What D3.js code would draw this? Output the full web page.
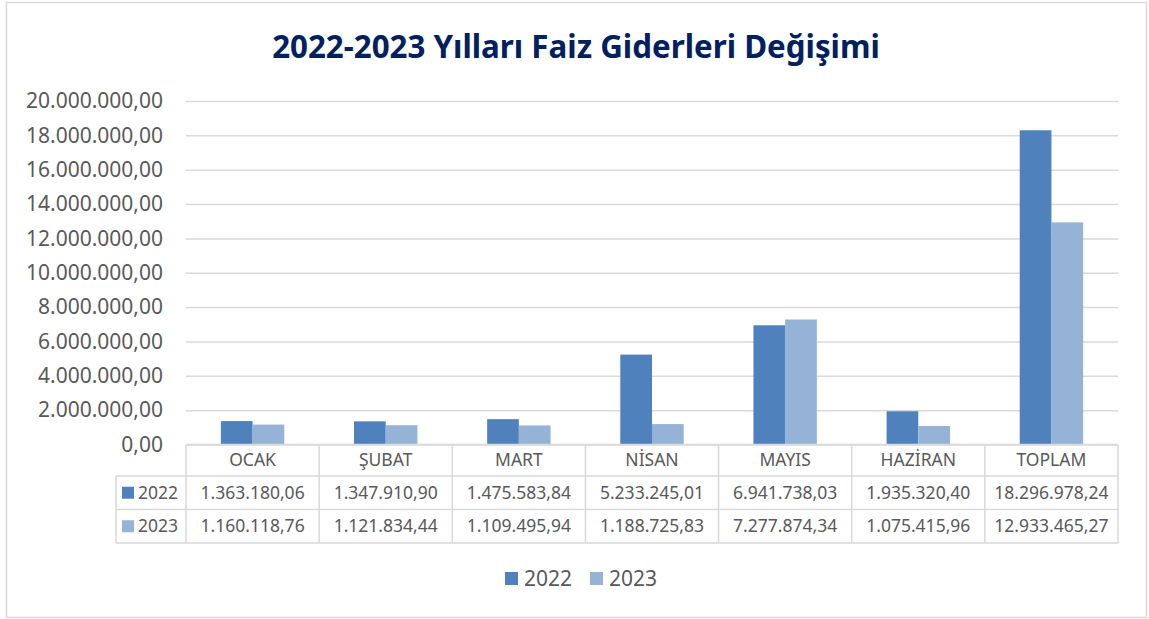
<!DOCTYPE html>
<html>
<head>
<meta charset="utf-8">
<script src="https://cdn.jsdelivr.net/npm/d3@7"></script>
<style>
  html, body { margin: 0; padding: 0; background: #ffffff; }
  svg { display: block; }
  text { font-family: "Noto Sans", "Open Sans", sans-serif; }
</style>
</head>
<body>
<svg id="chart" width="1149" height="619"></svg>
<script>
// ---- data ----
const titleText = "2022-2023 Yılları Faiz Giderleri Değişimi";
const categories = ["OCAK", "ŞUBAT", "MART", "NİSAN", "MAYIS", "HAZİRAN", "TOPLAM"];
const seriesNames = ["2022", "2023"];
const values2022 = [1363180.06, 1347910.90, 1475583.84, 5233245.01, 6941738.03, 1935320.40, 18296978.24];
const values2023 = [1160118.76, 1121834.44, 1109495.94, 1188725.83, 7277874.34, 1075415.96, 12933465.27];
const yTicks = [0, 2000000, 4000000, 6000000, 8000000, 10000000, 12000000, 14000000, 16000000, 18000000, 20000000];
const colors = ["#4f81bd", "#95b3d7"];

const series = [
  { name: seriesNames[0], values: values2022, color: colors[0] },
  { name: seriesNames[1], values: values2023, color: colors[1] }
];

const tr = d3.formatLocale({ decimal: ",", thousands: ".", grouping: [3], currency: ["", ""] });
const fmt = tr.format(",.2f");

const svg = d3.select("#chart");
const W = 1149, H = 619;
const gridColor = "#d9d9d9";
const textColor = "#595959";

// outer border
svg.append("rect").attr("x", 6.5).attr("y", 2.5).attr("width", 1140).attr("height", 615)
  .attr("fill", "#fff").attr("stroke", gridColor).attr("stroke-width", 1.5);

// title
const title = svg.append("text").attr("x", 576).attr("y", 58)
  .attr("text-anchor", "middle").attr("fill", "#002060")
  .attr("font-weight", "bold").attr("font-size", 30).text(titleText);
// fit title width to reference
(function(){
  const w = title.node().getComputedTextLength();
  const target = 608;
  title.attr("font-size", 30 * target / w);
})();

// scales
const plotL = 186, plotR = 1118, plotT = 101, plotB = 444.5;
const x = d3.scaleBand().domain(categories).range([plotL, plotR]).padding(0);
const y = d3.scaleLinear().domain([0, 20000000]).range([plotB, plotT]);
const bw = x.bandwidth();
const barW = bw / 4.2;
const xs = d3.scaleBand().domain(seriesNames).range([1.1 * barW, 1.1 * barW + 2 * barW]).padding(0);

// gridlines via axis
const yAxis = d3.axisLeft(y).tickValues(yTicks).tickSize(-(plotR - plotL)).tickFormat(fmt).tickPadding(23);
const gy = svg.append("g").attr("transform", `translate(${plotL},0)`).call(yAxis);
gy.select(".domain").remove();
gy.selectAll(".tick line").attr("stroke", gridColor).attr("stroke-width", 1.5);
gy.selectAll(".tick text").attr("fill", textColor).attr("font-size", 21)
  .attr("font-family", '"Noto Sans", "Open Sans", sans-serif');

// bars
series.forEach(s => {
  svg.append("g").selectAll("rect").data(categories.map((c, i) => ({ c, v: s.values[i] })))
    .join("rect")
    .attr("x", d => x(d.c) + xs(s.name))
    .attr("y", d => y(d.v))
    .attr("width", xs.bandwidth())
    .attr("height", d => y(0) - y(d.v))
    .attr("fill", s.color);
});

// data table
const rowTop = plotB, headH = 31.5, rowH = 33.5;
const tableL = 116;
const tbl = svg.append("g");
const line = (x1, y1, x2, y2) => tbl.append("line").attr("x1", x1).attr("y1", y1).attr("x2", x2).attr("y2", y2)
  .attr("stroke", gridColor).attr("stroke-width", 1.5);
const y1r = rowTop + headH, y2r = y1r + rowH, y3r = y2r + rowH;
line(plotL, rowTop, plotR, rowTop);
line(tableL, y1r, plotR, y1r);
line(tableL, y2r, plotR, y2r);
line(tableL, y3r, plotR, y3r);
line(tableL, y1r, tableL, y3r);
categories.forEach(c => line(x(c), rowTop, x(c), y3r));
line(plotR, rowTop, plotR, y3r);

// header labels
tbl.selectAll("text.cat").data(categories).join("text").attr("class", "cat")
  .attr("x", c => x(c) + bw / 2).attr("y", rowTop + headH / 2)
  .attr("dy", "0.35em").attr("text-anchor", "middle")
  .attr("fill", textColor).attr("font-size", 17.5).text(c => c);

// rows
series.forEach((s, si) => {
  const ry = y1r + si * rowH;
  tbl.append("rect").attr("x", 122).attr("y", ry + rowH / 2 - 6).attr("width", 12).attr("height", 12).attr("fill", s.color);
  tbl.append("text").attr("x", 138).attr("y", ry + rowH / 2).attr("dy", "0.35em")
    .attr("fill", textColor).attr("font-size", 17.5).text(s.name);
  tbl.selectAll(null).data(categories.map((c, i) => ({ c, v: s.values[i] }))).join("text")
    .attr("x", d => x(d.c) + bw / 2).attr("y", ry + rowH / 2).attr("dy", "0.35em")
    .attr("text-anchor", "middle").attr("fill", textColor).attr("font-size", 17.5)
    .text(d => fmt(d.v));
});

// legend
const lg = svg.append("g");
const legendX = [505, 590];
series.forEach((s, i) => {
  lg.append("rect").attr("x", legendX[i]).attr("y", 572).attr("width", 13).attr("height", 13).attr("fill", s.color);
  lg.append("text").attr("x", legendX[i] + 19).attr("y", 579).attr("dy", "0.35em")
    .attr("fill", textColor).attr("font-size", 21).text(s.name);
});
</script>
</body>
</html>
